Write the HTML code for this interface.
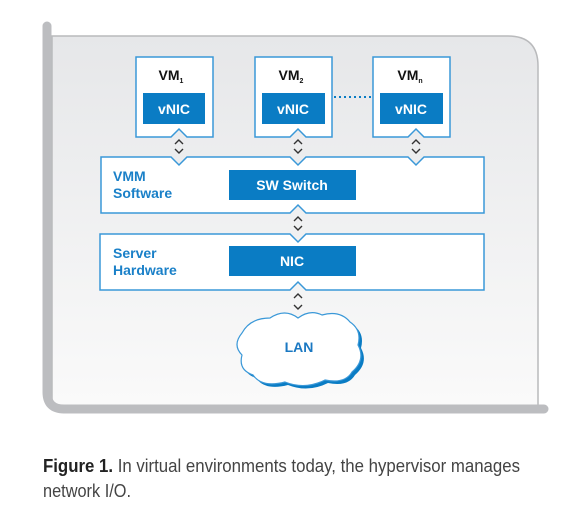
<!DOCTYPE html>
<html><head><meta charset="utf-8"><style>
html,body{margin:0;padding:0;background:#fff;}
svg{display:block;}
</style></head><body>
<svg width="574" height="520" viewBox="0 0 574 520" xmlns="http://www.w3.org/2000/svg" font-family="Liberation Sans, sans-serif">
<defs>
<linearGradient id="bg" x1="0" y1="0" x2="0" y2="1">
<stop offset="0" stop-color="#e6e7e9"/><stop offset="1" stop-color="#fafafa"/>
</linearGradient>
</defs>
<path d="M52 36 H508 Q538 36 538 66 V406 H52 Z" fill="url(#bg)" stroke="#b9babc" stroke-width="1.5"/>
<path d="M47 26 V392 Q47 409 64 409 H544" fill="none" stroke="#bcbdc0" stroke-width="9" stroke-linecap="round"/>

<g stroke="#3a98d8" stroke-width="1.5" fill="#fff">
<path d="M136 57 H213 V137 H187 L179 129 L171 137 H136 Z"/>
<path d="M255 57 H332 V137 H306 L298 129 L290 137 H255 Z"/>
<path d="M373 57 H450 V137 H424 L416 129 L408 137 H373 Z"/>
<path d="M101 157 H171 L179 165 L187 157 H290 L298 165 L306 157 H408 L416 165 L424 157 H484 V213 H306 L298 205 L290 213 H101 Z"/>
<path d="M100 234 H290 L298 242 L306 234 H484 V290 H306 L298 282 L290 290 H100 Z"/>
</g>

<g fill="#0a7cc4">
<rect x="143" y="93" width="62" height="31"/>
<rect x="262" y="93" width="63" height="31"/>
<rect x="380" y="93" width="63" height="31"/>
<rect x="229" y="170" width="127" height="30"/>
<rect x="229" y="246" width="127" height="30"/>
</g>
<line x1="334" y1="97" x2="371" y2="97" stroke="#0a7cc4" stroke-width="2" stroke-dasharray="2,3"/>

<path d="M298 318 Q310 309 322 315 Q340 310 350 322 Q362 330 358 345 Q366 360 352 372 Q345 384 325 380 Q305 390 285 382 Q262 388 253 375 Q238 370 242 355 Q232 345 242 333 Q250 318 270 318 Q285 308 298 318 Z" fill="#0a7cc4" transform="translate(3,3)"/>
<path d="M298 318 Q310 309 322 315 Q340 310 350 322 Q362 330 358 345 Q366 360 352 372 Q345 384 325 380 Q305 390 285 382 Q262 388 253 375 Q238 370 242 355 Q232 345 242 333 Q250 318 270 318 Q285 308 298 318 Z" fill="#fff" stroke="#3a98d8" stroke-width="1.2"/>

<g fill="none" stroke="#333" stroke-width="1.4">
<path d="M175 144 L179 140 L183 144 M175 149 L179 153 L183 149"/>
<path d="M294 144 L298 140 L302 144 M294 149 L298 153 L302 149"/>
<path d="M412 144 L416 140 L420 144 M412 149 L416 153 L420 149"/>
<path d="M294 221 L298 217 L302 221 M294 226 L298 230 L302 226"/>
<path d="M294 298 L298 294 L302 298 M294 305 L298 309 L302 305"/>
</g>

<g font-weight="bold" font-size="14" text-anchor="middle">
<text x="171" y="80" fill="#111">VM<tspan font-size="7" dy="3">1</tspan></text>
<text x="291" y="80" fill="#111">VM<tspan font-size="7" dy="3">2</tspan></text>
<text x="410" y="80" fill="#111">VM<tspan font-size="7" dy="3">n</tspan></text>
<text x="174" y="114" fill="#fff">vNIC</text>
<text x="293" y="114" fill="#fff">vNIC</text>
<text x="411" y="114" fill="#fff">vNIC</text>
<text x="292" y="190" fill="#fff">SW Switch</text>
<text x="292" y="266" fill="#fff">NIC</text>
<text x="299" y="352" fill="#1a78c2">LAN</text>
</g>
<g font-weight="bold" font-size="14" fill="#1a80c8">
<text x="113" y="181">VMM</text>
<text x="113" y="198">Software</text>
<text x="113" y="258">Server</text>
<text x="113" y="275">Hardware</text>
</g>

<text x="43" y="472" font-size="18" fill="#444" textLength="477" lengthAdjust="spacingAndGlyphs"><tspan font-weight="bold" fill="#222">Figure 1.</tspan> In virtual environments today, the hypervisor manages</text>
<text x="43" y="497" font-size="18" fill="#444" textLength="88" lengthAdjust="spacingAndGlyphs">network I/O.</text>
</svg>
</body></html>
